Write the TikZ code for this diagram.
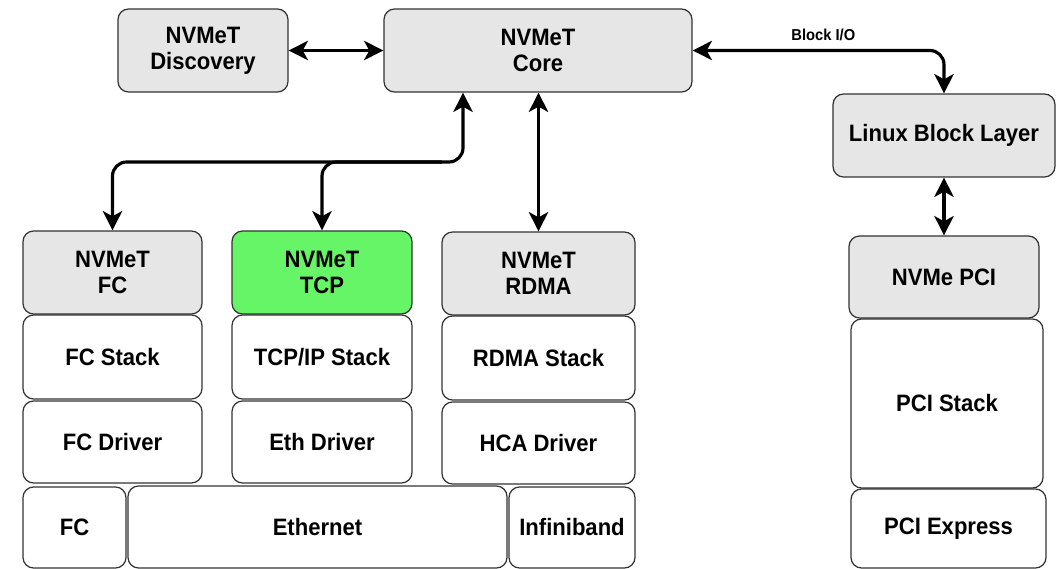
\documentclass[tikz,border=0pt]{standalone}
\usepackage{fontspec}
\setmainfont{Liberation Sans}[FakeStretch=0.93]
\usepackage{tikz}
\usetikzlibrary{arrows.meta}
\definecolor{boxgrey}{RGB}{230,230,230}
\definecolor{boxgreen}{RGB}{102,245,102}

\begin{document}
\begin{tikzpicture}[join=round, % NVMe target stacks
        box/.style={draw=black!80,line width=0.7pt,rounded corners=6pt,align=center,
                font=\fontsize{13.5}{15}\selectfont\bfseries,inner sep=0pt},
        grey/.style={box,fill=boxgrey},
        link/.style={line width=1.8pt,{Stealth[length=11pt,width=11pt,inset=3pt]}-{Stealth[length=11pt,width=11pt,inset=3pt]}},
        down/.style={line width=1.8pt,-{Stealth[length=11pt,width=11pt,inset=3pt]}}]
        \useasboundingbox (0,0) rectangle (21.16,-11.38);
        \node[grey,minimum width=3.4cm,minimum height=1.66cm] (disc) at (4.06,-1.01) {NVMeT\\Discovery};
        \node[grey,minimum width=6.16cm,minimum height=1.66cm] (core) at (10.76,-1.01) {NVMeT\\Core};
        \node[grey,minimum width=4.44cm,minimum height=1.66cm] (blk) at (18.88,-2.71) {Linux Block Layer};
        \node[grey,minimum width=3.58cm,minimum height=1.66cm] (nfc) at (2.25,-5.45) {NVMeT\\FC};
        \node[box,fill=boxgreen,minimum width=3.6cm,minimum height=1.66cm] (ntcp) at (6.44,-5.45) {NVMeT\\TCP};
        \node[grey,minimum width=3.86cm,minimum height=1.66cm] (nrdma) at (10.77,-5.47) {NVMeT\\RDMA};
        \node[box,minimum width=3.58cm,minimum height=1.68cm] (fcst) at (2.25,-7.14) {FC Stack};
        \node[box,minimum width=3.6cm,minimum height=1.68cm] (tcpst) at (6.44,-7.14) {TCP/IP Stack};
        \node[box,minimum width=3.86cm,minimum height=1.68cm] (rdmast) at (10.77,-7.16) {RDMA Stack};
        \node[box,minimum width=3.58cm,minimum height=1.64cm] (fcdrv) at (2.25,-8.84) {FC Driver};
        \node[box,minimum width=3.6cm,minimum height=1.64cm] (ethdrv) at (6.44,-8.84) {Eth Driver};
        \node[box,minimum width=3.86cm,minimum height=1.64cm] (hcadrv) at (10.77,-8.86) {HCA Driver};
        \node[box,minimum width=2.06cm,minimum height=1.62cm] (fc) at (1.49,-10.55) {FC};
        \node[box,minimum width=7.58cm,minimum height=1.64cm] (eth) at (6.35,-10.54) {Ethernet};
        \node[box,minimum width=2.52cm,minimum height=1.62cm] (ib) at (11.44,-10.55) {Infiniband};
        \node[grey,minimum width=3.8cm,minimum height=1.64cm] (npci) at (18.88,-5.54) {NVMe PCI};
        \node[box,minimum width=3.84cm,minimum height=3.38cm] (pcist) at (18.94,-8.07) {PCI Stack};
        \node[box,minimum width=3.9cm,minimum height=1.58cm] (pciex) at (18.97,-10.57) {PCI Express};
        \coordinate (hub) at (9.26,-3.24);
        \draw[link] (disc) -- (core);
        \draw[link,rounded corners=8pt] (core.east) -| (blk.north)
                node[pos=0.26,above=1pt,font=\fontsize{9}{10}\selectfont\bfseries] {Block I/O};
        \draw[link,rounded corners=8pt] (core.south -| hub) -- (hub) -| (nfc.north);
        \draw[down,rounded corners=8pt] ([xshift=-12pt]hub) -| (ntcp.north);
        \draw[link] (nrdma.north |- core.south) -- (nrdma.north);
        \draw[link] (blk) -- (npci);
   \end{tikzpicture}
\end{document}
